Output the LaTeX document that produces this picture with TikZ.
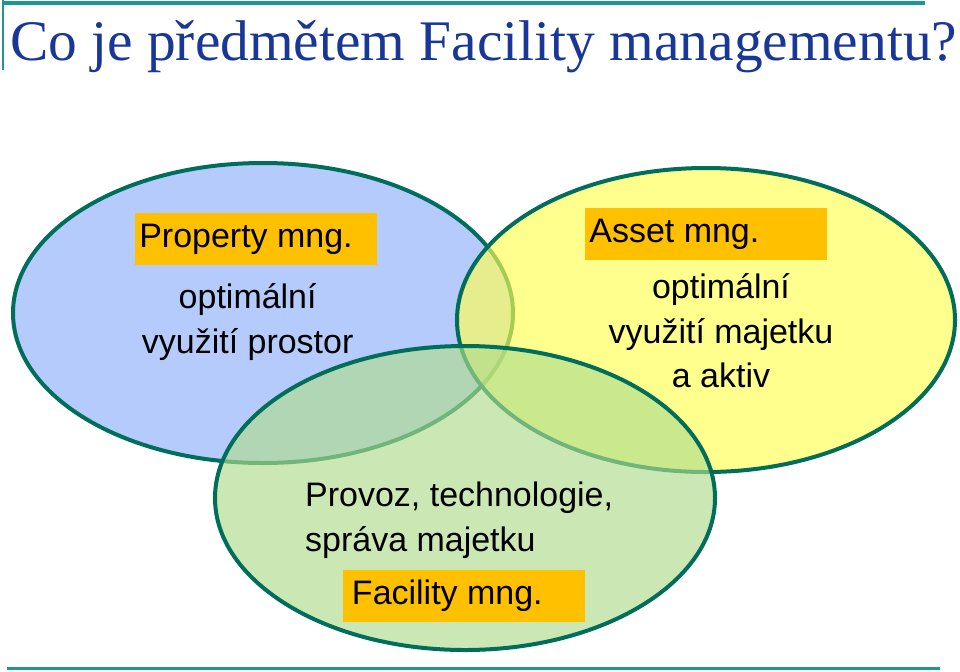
\documentclass[tikz,border=0pt]{standalone}
\usepackage{fontspec}
\setmainfont{Liberation Sans}
\newfontfamily\titlefont{Liberation Serif}
\usetikzlibrary{positioning}
\definecolor{clrEdge}{RGB}{0,110,90}
\definecolor{clrRule}{RGB}{30,150,150}
\definecolor{clrTitle}{RGB}{25,55,150}
\definecolor{clrBlue}{RGB}{140,175,250}
\definecolor{clrYellow}{RGB}{255,255,80}
\definecolor{clrGreen}{RGB}{175,220,140}
\definecolor{clrLabel}{RGB}{255,192,0}
\tikzstyle{circle_style}=[draw=clrEdge, line width=1.2mm, fill opacity=0.65, draw opacity=1]
\tikzstyle{label_box}=[fill=clrLabel, minimum width=7.26cm, minimum height=1.56cm, font=\fontsize{29}{34}\selectfont, inner sep=0pt]
\tikzstyle{body_text}=[align=center, font=\fontsize{29}{38}\selectfont, inner sep=0pt]
\begin{document}
\begin{tikzpicture}[x=0.03cm, y=-0.03cm]
		\useasboundingbox (0,0) rectangle (960,671);
		% rules
		\draw[clrRule, line width=0.9mm] (3,3) -- (925,3);
		\draw[clrRule, line width=0.6mm] (3,0) -- (3,70);
		\draw[clrRule, line width=0.9mm] (7,668) -- (940,668);

		\node[font=\titlefont\fontsize{49}{52}\selectfont, text=clrTitle, anchor=west] (T) at (6,47) {Co je předmětem Facility managementu?};

		% circles
		\draw[circle_style, fill=clrBlue] (263,313) ellipse [x radius=250, y radius=150];
		\draw[circle_style, fill=clrYellow] (706,320) ellipse [x radius=249, y radius=152];
		\draw[circle_style, fill=clrGreen] (465,498) ellipse [x radius=250, y radius=152];

		% labels
		\node[label_box] (P) at (256,239) {Property mng.\hspace*{0.6cm}};
		\node[body_text, below=0.55cm of P.south, xshift=-0.25cm] (Ptext) {optimální\\využití prostor};

		\node[label_box] (A) at (706,234) {Asset mng.\hspace*{1.9cm}};
		\node[body_text, below=0.4cm of A.south, xshift=0.45cm] (Atext) {optimální\\využití majetku\\a aktiv};

		\node[body_text, align=left, anchor=north west] (F) at (305,482) {Provoz, technologie,\\správa majetku};
		\node[label_box] (Fbox) at (464,596) {Facility mng.\hspace*{1.0cm}};
\end{tikzpicture}
\end{document}
